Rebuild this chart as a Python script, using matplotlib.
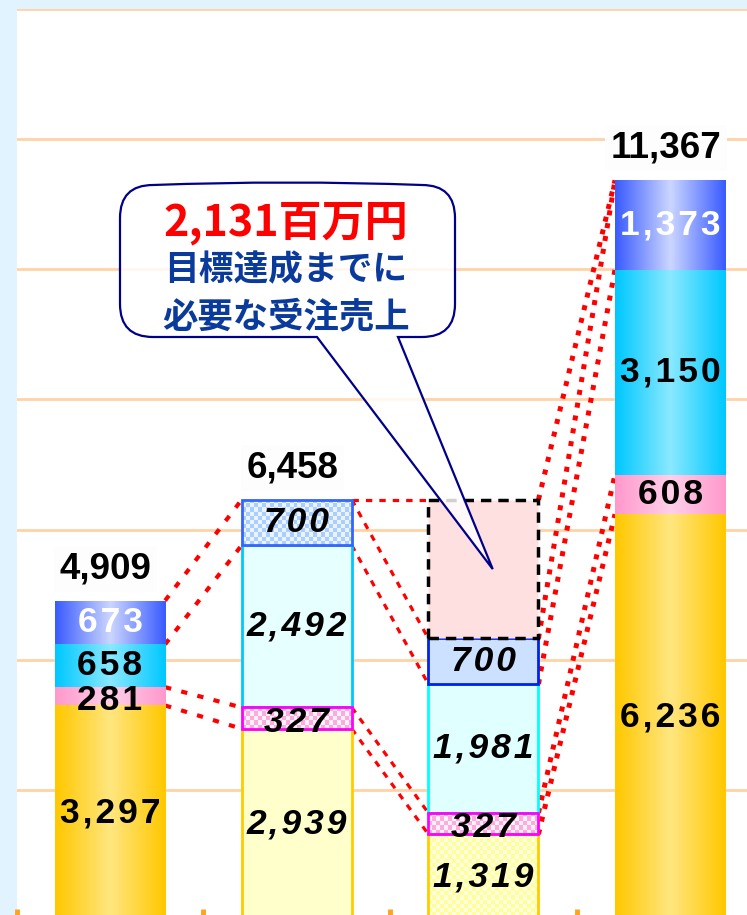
import numpy as np
import matplotlib.pyplot as plt
from matplotlib.path import Path
from matplotlib.patches import PathPatch
from matplotlib.colors import to_rgb

# values (millions of yen), bottom to top
bar_x = [0, 1, 2, 3]
base_vals = [3297, 2939, 1319, 6236]
pink_vals = [281, 327, 327, 608]
cyan_vals = [658, 2492, 1981, 3150]
blue_vals = [673, 700, 700, 1373]
gap_vals = [0, 0, 2131, 0]
total_labels = ["4,909", "6,458", "", "11,367"]
callout_lines = ["2,131百万円", "目標達成までに", "必要な受注売上"]

# which stack levels get joined by red lines (left bar level, right bar level)
links = {
    0: [(3, 3), (2, 2), (1, 1), (0, 0)],
    1: [(3, 4), (3, 3), (2, 2), (1, 1), (0, 0)],
    2: [(4, 3), (3, 3), (2, 2), (1, 1), (0, 0)],
}

W = 0.59
NUM_FONT = ["Liberation Sans", "DejaVu Sans"]
JP_FONT = ["Noto Sans CJK JP", "DejaVu Sans"]


def gradient(edge, mid, n=64):
    u = np.linspace(0, 1, n)
    t = 1 - np.abs(2 * u - 1)
    e, m = np.array(to_rgb(edge)), np.array(to_rgb(mid))
    return (e + (m - e) * t[:, None])[None, :, :]


def checker(c1, c2, nx, ny):
    ii, jj = np.indices((ny, nx))
    mask = (ii + jj) % 2 == 0
    return np.where(mask[..., None], to_rgb(c1), to_rgb(c2))


def paint(ax, patch, img, interp):
    x0, y0 = patch.get_xy()
    im = ax.imshow(img, extent=(x0, x0 + patch.get_width(), y0, y0 + patch.get_height()),
                   origin="lower", aspect="auto", interpolation=interp,
                   zorder=patch.get_zorder() + 0.1)
    im.set_clip_path(patch)


def spaced(s):
    return "\u200a".join(s)


fig = plt.figure(figsize=(7.47, 9.15), dpi=100, facecolor="#e0f3fe")
ax = fig.add_axes([16.7 / 747, -5 / 915, 746.7 / 747, 911 / 915])
ax.set_facecolor("white")
ax.set_xlim(-0.5, 3.5)
ax.set_ylim(0, 14000)

ax.set_yticks(range(0, 14001, 2000))
ax.yaxis.grid(True, color="#ffd3a6", lw=2)
ax.set_axisbelow(True)
ax.tick_params(axis="y", length=0, labelleft=False)
ax.set_xticks([-0.5, 0.5, 1.5, 2.5])
ax.tick_params(axis="x", direction="inout", length=16, width=3.5,
               color="#ffa31a", labelbottom=False)
for s in ax.spines.values():
    s.set_visible(False)

px_y = 911 / 14000          # pixels per unit (vertical)
px_x = 746.7 / 4            # pixels per category

# per-segment styles: (kind, colours, edge colour)
grad_style = [("grad", ("#ffc800", "#ffe680"), None),
              ("grad", ("#ff99cc", "#ffd0ea"), None),
              ("grad", ("#00c8ff", "#8ae9ff"), None),
              ("grad", ("#3a5cff", "#ccd6ff"), None)]
styles = {
    0: grad_style,
    1: [("solid", "#ffffcc", "#ffcc00"),
        ("check", ("#ffaadd", "#fff0fa"), "#ff00ff"),
        ("solid", "#e6ffff", "#00c8ff"),
        ("check", ("#a8cfff", "#eaf3ff"), "#3366ff")],
    2: [("check", ("#ffff99", "#ffffe0"), "#ffcc00"),
        ("check", ("#ffaadd", "#fff0fa"), "#ff00ff"),
        ("solid", "#e0ffff", "#00ffff"),
        ("solid", "#cce0ff", "#0022ee")],
    3: grad_style,
}
text_colors = {0: ["black", "black", "black", "white"],
               3: ["black", "black", "black", "white"]}

levels = []
for i in bar_x:
    vals = [base_vals[i], pink_vals[i], cyan_vals[i], blue_vals[i], gap_vals[i]]
    tops = list(np.cumsum(vals))
    levels.append(tops)
    bottom = 0
    for k in range(4):
        h = vals[k]
        kind, cols, edge = styles[i][k]
        if kind == "solid":
            ax.bar(i, h, bottom=bottom, width=W, color=cols, edgecolor=edge,
                   lw=2, zorder=3)
        else:
            p = ax.bar(i, h, bottom=bottom, width=W, color="white", lw=0, zorder=3)[0]
            if kind == "grad":
                paint(ax, p, gradient(*cols), "bilinear")
            else:
                nx = int(round(W * px_x / 4))
                ny = max(1, int(round(h * px_y / 4)))
                paint(ax, p, checker(cols[0], cols[1], nx, ny), "nearest")
                ax.bar(i, h, bottom=bottom, width=W, fill=False, edgecolor=edge,
                       lw=2, zorder=3.5)
        tc = text_colors.get(i, ["black"] * 4)[k]
        style = "italic" if i in (1, 2) else "normal"
        # thin segments: label hangs a little below the middle
        dy = -3 if h * px_y < 25 else 0
        ax.annotate(spaced(f"{h:,}"), (i, bottom + h / 2), xytext=(0, dy),
                    textcoords="offset points", ha="center", va="center",
                    fontsize=25.5, fontweight="bold", fontstyle=style, color=tc,
                    family=NUM_FONT, zorder=6)
        bottom += h
    if gap_vals[i]:
        ax.bar(i, gap_vals[i], bottom=bottom, width=W, color="#ffe0e0",
               edgecolor="black", lw=2.5, linestyle=(0, (3, 2)), zorder=3)
    if total_labels[i]:
        ax.annotate(total_labels[i], (i, bottom), xytext=(-3, 23),
                    textcoords="offset points", ha="center", va="center",
                    fontsize=26.5, fontweight="bold", family=NUM_FONT, zorder=6,
                    bbox=dict(boxstyle="square,pad=0.15", fc="#fdfdfd", ec="none"))

# red connector lines between neighbouring bars
link_style = {
    0: dict(lw=3, dashes=(1.5, 2.5)),
    1: dict(lw=2.3, dashes=(2, 2.2)),
    2: dict(lw=3.6, dashes=(1, 1.6)),
}
for i, pairs in links.items():
    for a, b in pairs:
        ax.plot([i + W / 2, i + 1 - W / 2], [levels[i][a], levels[i + 1][b]],
                color="red", solid_capstyle="butt", dash_capstyle="butt",
                zorder=2.5, **link_style[i])

# speech bubble (drawn in inches so the corners stay round)
tip = ax.transData.transform((2.05, levels[2][3] + gap_vals[2] / 2)) / fig.dpi
L, R, B, T, r = 1.20, 4.55, 5.78, 7.30, 0.33
p1, p2 = 3.17, 3.98
verts = [(L + r, T), ((L + R) / 2, T + 0.05), (R - r, T),
         (R, T), (R, T - r),
         (R, B + r),
         (R, B), (R - r, B),
         (p2, B), tuple(tip), (p1, B),
         (L + r, B),
         (L, B), (L, B + r),
         (L, T - r),
         (L, T), (L + r, T)]
codes = [Path.MOVETO, Path.CURVE3, Path.CURVE3,
         Path.CURVE3, Path.CURVE3,
         Path.LINETO,
         Path.CURVE3, Path.CURVE3,
         Path.LINETO, Path.LINETO, Path.LINETO,
         Path.LINETO,
         Path.CURVE3, Path.CURVE3,
         Path.LINETO,
         Path.CURVE3, Path.CURVE3]
bubble = PathPatch(Path(verts, codes), transform=fig.dpi_scale_trans,
                   facecolor=(1, 1, 1, 0.82), edgecolor="#00008b", lw=1.6, zorder=7)
ax.add_patch(bubble)

cx = 2.86
fig.text(cx, 6.92, callout_lines[0], transform=fig.dpi_scale_trans, ha="center",
         va="center", fontsize=31, fontweight="bold", color="#ff0000",
         family=JP_FONT, zorder=8)
fig.text(cx, 6.45, callout_lines[1], transform=fig.dpi_scale_trans, ha="center",
         va="center", fontsize=25, fontweight="bold", color="#0a3a9c",
         family=JP_FONT, zorder=8)
fig.text(cx, 5.98, callout_lines[2], transform=fig.dpi_scale_trans, ha="center",
         va="center", fontsize=25.5, fontweight="bold", color="#0a3a9c",
         family=JP_FONT, zorder=8)

fig.savefig("out.png", dpi=100, facecolor=fig.get_facecolor())
